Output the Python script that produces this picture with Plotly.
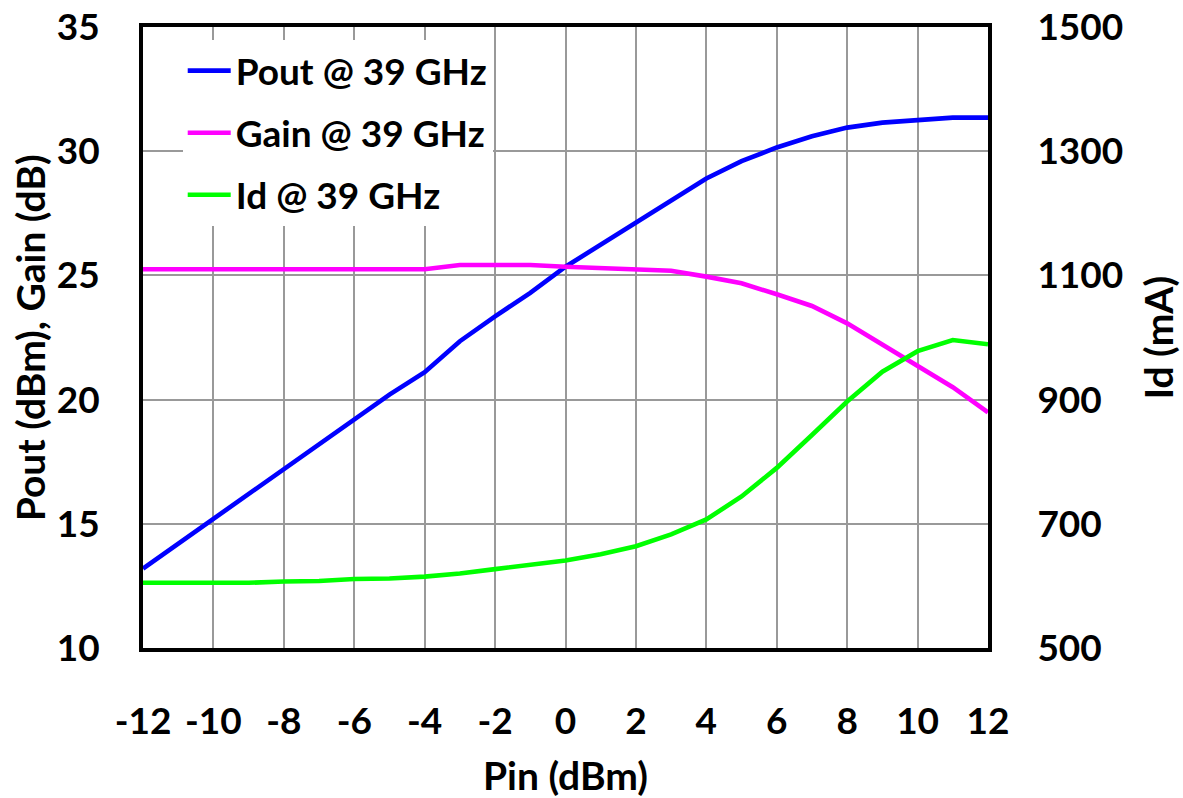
import plotly.graph_objects as go

# Input power sweep (dBm)
pin = list(range(-12, 13))

# Output power (dBm) at 39 GHz
pout = [13.2, 14.2, 15.15, 16.15, 17.15, 18.15, 19.2, 20.2, 21.1, 22.35, 23.35, 24.3,
        25.35, 26.25, 27.15, 28.05, 28.9, 29.6, 30.15, 30.6, 30.95, 31.15, 31.25, 31.35, 31.35]

# Gain (dB) at 39 GHz
gain = [25.25, 25.25, 25.25, 25.25, 25.25, 25.25, 25.25, 25.25, 25.25, 25.42, 25.42, 25.42,
        25.35, 25.3, 25.24, 25.19, 24.95, 24.68, 24.24, 23.77, 23.07, 22.2, 21.35, 20.5, 19.49]

# Drain current (mA) at 39 GHz
id_ma = [605, 605, 605, 605, 607, 608, 611, 612, 615, 620, 627, 634,
         641, 651, 664, 683, 707, 744, 790, 843, 897, 945, 978, 996, 989]

x_ticks = list(range(-12, 13, 2))
y_left_ticks = [10, 15, 20, 25, 30, 35]
y_right_ticks = [500, 700, 900, 1100, 1300, 1500]

FONT = "Lato, 'Open Sans', sans-serif"
GRID = "#999999"
TICK_SIZE = 37
TITLE_SIZE = 39
LEGEND_SIZE = 37
LINE_W = 4.6

fig = go.Figure()
fig.add_trace(go.Scatter(x=pin, y=pout, mode="lines", name="<b>Pout @ 39 GHz</b>",
                         line=dict(color="#0000FF", width=LINE_W), legendgroup="a"))
fig.add_trace(go.Scatter(x=pin, y=gain, mode="lines", name="<b>Gain @ 39 GHz</b>",
                         line=dict(color="#FF00FF", width=LINE_W), legendgroup="b"))
fig.add_trace(go.Scatter(x=pin, y=id_ma, mode="lines", name="<b>Id @ 39 GHz</b>",
                         line=dict(color="#00FF00", width=LINE_W), legendgroup="c",
                         yaxis="y2"))

fig.update_layout(
    width=1183, height=798,
    margin=dict(l=143, r=195, t=27, b=150),
    paper_bgcolor="white", plot_bgcolor="white",
    font=dict(family=FONT, size=TICK_SIZE, color="black"),
    showlegend=True,
    legend=dict(x=0.047, y=0.979, xanchor="left", yanchor="top",
                bgcolor="white", borderwidth=0,
                font=dict(family=FONT, size=LEGEND_SIZE, color="black"),
                tracegroupgap=11, itemwidth=43),
    xaxis=dict(range=[-12, 12], tickvals=x_ticks, ticktext=[f"<b>{v}</b>" for v in x_ticks],
               showgrid=True, gridcolor=GRID, gridwidth=2,
               showline=True, linecolor="black", linewidth=4, mirror=True,
               ticks="outside", ticklen=38, tickcolor="rgba(0,0,0,0)",
               zeroline=False, automargin=False,
               tickfont=dict(family=FONT, size=TICK_SIZE)),
    yaxis=dict(range=[10, 35], tickvals=y_left_ticks, ticktext=[f"<b>{v}</b>" for v in y_left_ticks],
               showgrid=True, gridcolor=GRID, gridwidth=2,
               showline=True, linecolor="black", linewidth=4, mirror=True,
               ticks="outside", ticklen=32, tickcolor="rgba(0,0,0,0)",
               zeroline=False, automargin=False,
               tickfont=dict(family=FONT, size=TICK_SIZE)),
    yaxis2=dict(range=[500, 1500], tickvals=y_right_ticks, ticktext=[f"<b>{v}</b>" for v in y_right_ticks],
                overlaying="y", side="right", showgrid=False,
                showline=True, linecolor="black", linewidth=4,
                ticks="outside", ticklen=38, tickcolor="rgba(0,0,0,0)",
                zeroline=False, automargin=False,
                tickfont=dict(family=FONT, size=TICK_SIZE)),
    annotations=[
        dict(text="<b>Pin (dBm)</b>", xref="paper", yref="paper", x=0.5, y=-0.205,
             xanchor="center", yanchor="middle", showarrow=False,
             font=dict(family=FONT, size=TITLE_SIZE)),
        dict(text="<b>Pout (dBm), Gain (dB)</b>", xref="paper", yref="paper", x=-0.134, y=0.5,
             xanchor="center", yanchor="middle", textangle=-90, showarrow=False,
             font=dict(family=FONT, size=TITLE_SIZE)),
        dict(text="<b>Id (mA)</b>", xref="paper", yref="paper", x=1.2, y=0.5,
             xanchor="center", yanchor="middle", textangle=-90, showarrow=False,
             font=dict(family=FONT, size=TITLE_SIZE)),
    ],
)

fig.write_html("out.html")
